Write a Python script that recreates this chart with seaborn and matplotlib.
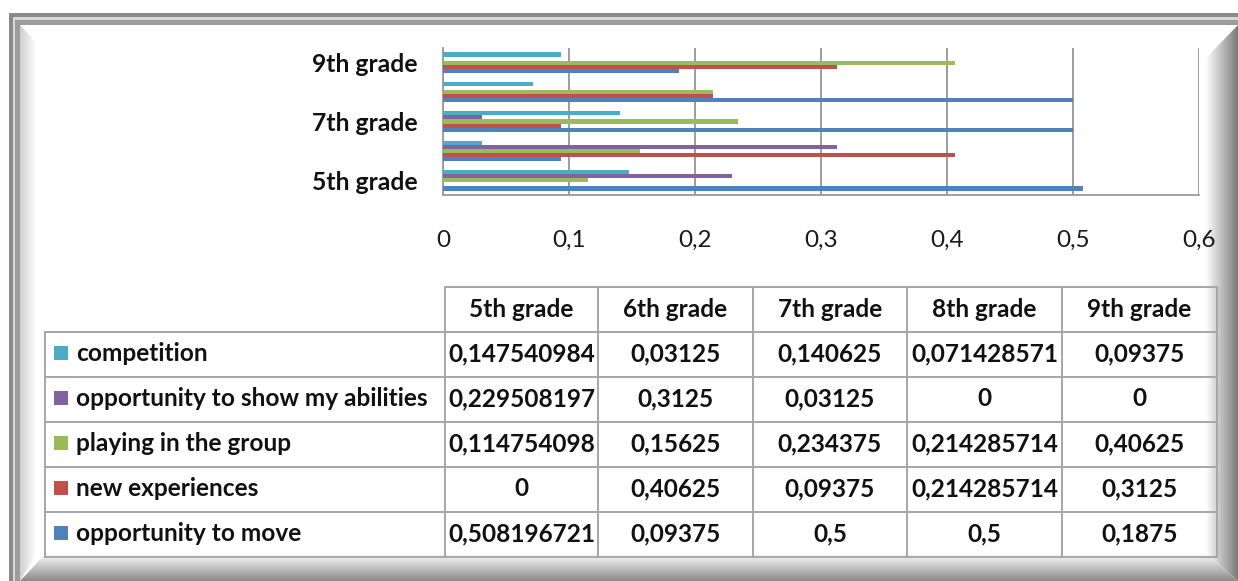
import numpy as np
import pandas as pd
import matplotlib
matplotlib.use("Agg")
import matplotlib.pyplot as plt
from matplotlib.patches import Rectangle, Polygon
from matplotlib.ticker import FuncFormatter
import seaborn as sns

grades = ["5th grade", "6th grade", "7th grade", "8th grade", "9th grade"]
series = ["competition", "opportunity to show my abilities", "playing in the group",
          "new experiences", "opportunity to move"]
competition = [0.147540984, 0.03125, 0.140625, 0.071428571, 0.09375]
show_abilities = [0.229508197, 0.3125, 0.03125, 0, 0]
playing_group = [0.114754098, 0.15625, 0.234375, 0.214285714, 0.40625]
new_experiences = [0, 0.40625, 0.09375, 0.214285714, 0.3125]
opportunity_move = [0.508196721, 0.09375, 0.5, 0.5, 0.1875]
table_text = [
    ["0,147540984", "0,03125", "0,140625", "0,071428571", "0,09375"],
    ["0,229508197", "0,3125", "0,03125", "0", "0"],
    ["0,114754098", "0,15625", "0,234375", "0,214285714", "0,40625"],
    ["0", "0,40625", "0,09375", "0,214285714", "0,3125"],
    ["0,508196721", "0,09375", "0,5", "0,5", "0,1875"],
]
colors = ["#4BACC6", "#8064A2", "#9BBB59", "#C0504D", "#4F81BD"]
xticks = [0, 0.1, 0.2, 0.3, 0.4, 0.5, 0.6]

values = [competition, show_abilities, playing_group, new_experiences, opportunity_move]
rows = []
for s, vals in zip(series, values):
    for g, v in zip(grades, vals):
        rows.append({"grade": g, "series": s, "value": v})
df = pd.DataFrame(rows)

sns.set_theme(style="white")
FONT = ["Lato", "DejaVu Sans"]
plt.rcParams["font.family"] = FONT

W, H = 1238, 581
fig = plt.figure(figsize=(W / 100, H / 100), dpi=100)

# background axes in pixel coordinates
bg = fig.add_axes([0, 0, 1, 1])
bg.set_xlim(0, W)
bg.set_ylim(H, 0)
bg.axis("off")

# frame
bg.add_patch(Rectangle((9, 13), W, H, facecolor="#8a8a8a", edgecolor="none", zorder=0))
bg.add_patch(Rectangle((13, 17), W, H, facecolor="#d9d9d9", edgecolor="none", zorder=0.1))
bg.add_patch(Rectangle((15, 20), W, H, facecolor="#9c9c9c", edgecolor="none", zorder=0.2))
bg.add_patch(Rectangle((20, 25), W, H, facecolor="white", edgecolor="none", zorder=0.3))

def grad_poly(pts, direction, c0, c1, z):
    poly = Polygon(pts, closed=True, facecolor="none", edgecolor="none")
    bg.add_patch(poly)
    xs = [p[0] for p in pts]; ys = [p[1] for p in pts]
    x0, x1, y0, y1 = min(xs), max(xs), min(ys), max(ys)
    t = np.linspace(0, 1, 256)
    a = np.array(matplotlib.colors.to_rgb(c0)); b = np.array(matplotlib.colors.to_rgb(c1))
    g = a[None, :] * (1 - t[:, None]) + b[None, :] * t[:, None]
    if direction == "h":
        img = g[None, :, :]
    else:
        img = g[:, None, :]
    im = bg.imshow(img, extent=(x0, x1, y1, y0), aspect="auto", zorder=z, interpolation="bilinear")
    im.set_clip_path(poly)

grad_poly([(20, 25), (36, 42), (36, 555), (20, 581)], "h", "#cfcfcf", "#ffffff", 0.4)
grad_poly([(1238, 25), (1238, 581), (1206, 553), (1206, 58)], "h", "#ffffff", "#7a7a7a", 0.5)
grad_poly([(20, 581), (1238, 581), (1206, 553), (46, 553)], "v", "#ffffff", "#8a8a8a", 0.6)

# chart axes
ax = fig.add_axes([443 / W, 1 - 195 / H, 756 / W, 147 / H])
ax.set_facecolor("none")
order = grades[::-1]
sns.barplot(data=df, x="value", y="grade", hue="series", order=order, hue_order=series,
            palette=colors, orient="h", width=0.7, gap=0, saturation=1, errorbar=None,
            edgecolor="none", ax=ax, zorder=3, legend=False)
ax.set_xlim(0, 0.6)
ax.set_ylim(len(order) - 0.5, -0.5)
ax.set_xticks(xticks)
ax.xaxis.set_major_formatter(FuncFormatter(lambda v, p: ("%g" % v).replace(".", ",")))
shown = grades[::2]
ax.set_yticks([order.index(g) for g in shown])
ax.set_yticklabels(shown)
ax.tick_params(axis="both", length=0)
ax.tick_params(axis="x", pad=25, labelsize=17.5, labelcolor="#1a1a1a")
ax.tick_params(axis="y", pad=18, labelsize=17.8, labelcolor="#111111")
for lab in ax.get_yticklabels():
    lab.set_fontweight("bold")
ax.grid(axis="x", color="#8c8c8c", linewidth=1.2, zorder=1)
ax.set_axisbelow(True)
for side in ["top", "right"]:
    ax.spines[side].set_visible(False)
for side in ["left", "bottom"]:
    ax.spines[side].set_color("#9a9a9a")
    ax.spines[side].set_linewidth(1.3)
ax.set_xlabel("")
ax.set_ylabel("")

# data table
col_x = [45, 445, 598, 753, 907, 1062, 1217]
row_y = [287, 332, 377, 422, 467, 512, 557]
lc = "#a6a6a6"
lw = 1.4
bg.plot([col_x[1], col_x[-1]], [row_y[0], row_y[0]], color=lc, lw=lw, zorder=2)
for yy in row_y[1:]:
    bg.plot([col_x[0], col_x[-1]], [yy, yy], color=lc, lw=lw, zorder=2)
bg.plot([col_x[0], col_x[0]], [row_y[1], row_y[-1]], color=lc, lw=lw, zorder=2)
for xx in col_x[1:]:
    bg.plot([xx, xx], [row_y[0], row_y[-1]], color=lc, lw=lw, zorder=2)
tfs = 17.6
for j, g in enumerate(grades):
    bg.text((col_x[j + 1] + col_x[j + 2]) / 2, (row_y[0] + row_y[1]) / 2, g, ha="center",
            va="center", fontsize=tfs, fontweight="bold", color="#111111", zorder=3)
for i, s in enumerate(series):
    yc = (row_y[i + 1] + row_y[i + 2]) / 2
    bg.add_patch(Rectangle((54, yc - 8.5), 14, 14, facecolor=colors[i], edgecolor="none", zorder=3))
    bg.text(76, yc - 1, s, ha="left", va="center", fontsize=tfs, fontweight="bold",
            color="#111111", zorder=3)
    for j in range(len(grades)):
        bg.text((col_x[j + 1] + col_x[j + 2]) / 2, yc - 1, table_text[i][j], ha="center",
                va="center", fontsize=tfs, fontweight="bold", color="#111111", zorder=3)

fig.savefig("out.png", dpi=100)
